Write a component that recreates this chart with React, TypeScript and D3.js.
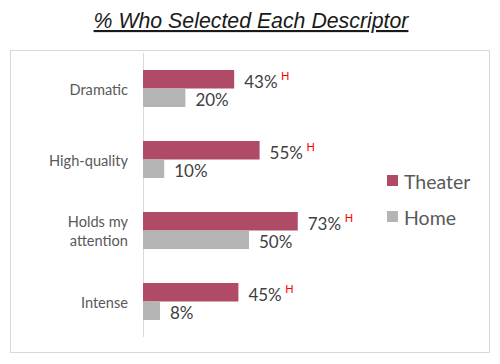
import * as d3 from 'd3'

// ─── Data ────────────────────────────────────────────────────────────────────

const categories = ['Dramatic', 'High-quality', 'Holds my attention', 'Intense']
const categoryLines = [['Dramatic'], ['High-quality'], ['Holds my', 'attention'], ['Intense']]
const series = ['Theater', 'Home']
const theater = [43, 55, 73, 45]
const home = [20, 10, 50, 8]
const theaterFlags = ['H', 'H', 'H', 'H']

const colors = {
  theater: '#AF4B66',
  home: '#B4B4B4',
  border: '#D9D9D9',
  value: '#404040',
  category: '#595959',
  flag: '#FF0000',
  title: '#1A1A1A',
}

const W = 500
const H = 364
const plot = { left: 143, top: 53, bottom: 337 }
const font = 'Lato, "Open Sans", sans-serif'

export default function App() {
  const y0 = d3.scaleBand().domain(categories).range([plot.top, plot.bottom]).padding(0)
  const y1 = d3
    .scaleBand()
    .domain(series)
    .range([0, y0.bandwidth()])
    .paddingInner(0)
    .paddingOuter(0.92)
  const x = d3.scaleLinear().domain([0, 100]).range([plot.left, plot.left + 212])

  const values: Record<string, number[]> = { Theater: theater, Home: home }
  const fill: Record<string, string> = { Theater: colors.theater, Home: colors.home }

  return (
    <svg
      width={W}
      height={H}
      viewBox={`0 0 ${W} ${H}`}
      style={{ position: 'absolute', left: 0, top: 0, background: '#fff', fontFamily: font }}
    >
      {/* Title */}
      <text
        x={251}
        y={28}
        textAnchor="middle"
        fontFamily='"Liberation Sans", Arial, sans-serif'
        fontStyle="italic"
        fontSize={21.3}
        fill={colors.title}
        textDecoration="underline"
      >
        % Who Selected Each Descriptor
      </text>

      {/* Chart frame */}
      <rect x={10.5} y={50.5} width={479} height={302} fill="none" stroke={colors.border} />

      {/* Category axis */}
      <line
        x1={plot.left + 0.5}
        x2={plot.left + 0.5}
        y1={plot.top}
        y2={plot.bottom}
        stroke={colors.border}
      />

      {categories.map((c, i) => {
        const cy = y0(c)! + y0.bandwidth() / 2
        const lines = categoryLines[i]
        const lh = 19
        return (
          <text
            key={c}
            x={128}
            textAnchor="end"
            fontSize={14.6}
            fill={colors.category}
            dominantBaseline="central"
          >
            {lines.map((l, j) => (
              <tspan key={j} x={128} y={cy + (j - (lines.length - 1) / 2) * lh}>
                {l}
              </tspan>
            ))}
          </text>
        )
      })}

      {/* Bars and labels */}
      {categories.map((c, i) =>
        series.map((s) => {
          const v = values[s][i]
          const by = y0(c)! + y1(s)!
          const bh = y1.bandwidth()
          const bx = x(v)
          const label = `${v}%`
          const labelX = bx + 10
          const labelW = label.length * 11.3
          return (
            <g key={`${c}-${s}`}>
              <rect x={x(0)} y={by} width={bx - x(0)} height={bh} fill={fill[s]} />
              <text
                x={labelX}
                y={by + bh / 2 + 2}
                fontSize={17}
                fill={colors.value}
                dominantBaseline="central"
              >
                {label}
              </text>
              {s === 'Theater' && theaterFlags[i] && (
                <text
                  x={labelX + labelW + 3}
                  y={by + bh / 2 - 4}
                  fontSize={11}
                  fill={colors.flag}
                  dominantBaseline="central"
                >
                  {theaterFlags[i]}
                </text>
              )}
            </g>
          )
        }),
      )}

      {/* Legend */}
      {series.map((s, i) => (
        <g key={s} transform={`translate(387,${175 + i * 36})`}>
          <rect width={11} height={11} fill={fill[s]} />
          <text x={17} y={6} fontSize={19.5} fill={colors.category} dominantBaseline="central">
            {s}
          </text>
        </g>
      ))}
    </svg>
  )
}
